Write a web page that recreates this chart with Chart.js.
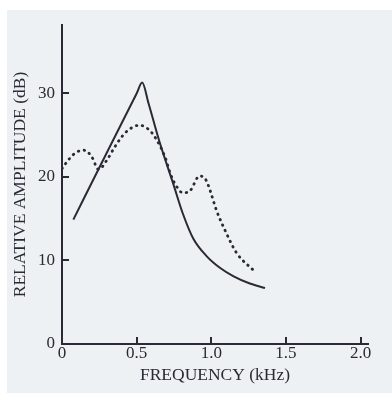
<!DOCTYPE html>
<html>
<head>
<meta charset="utf-8">
<script src="https://cdn.jsdelivr.net/npm/chart.js@4"></script>
<style>
  html, body { margin: 0; padding: 0; background: #ffffff; }
  #wrap { width: 392px; height: 396px; }
</style>
</head>
<body>
<div id="wrap"><canvas id="chart" width="392" height="396"></canvas></div>
<script>
// solid curve
const freqSolid = [0.076, 0.3, 0.5, 0.537, 0.58, 0.65, 0.745, 0.81, 0.88, 0.97, 1.06, 1.15, 1.25, 1.36];
const ampSolid = [14.9, 22.9, 30.0, 31.3, 28.8, 24.4, 19.2, 15.6, 12.6, 10.5, 9.1, 8.1, 7.3, 6.7];

// dotted curve
const freqDotted = [0.0, 0.05, 0.1, 0.15, 0.2, 0.245, 0.3, 0.35, 0.4, 0.45, 0.52, 0.58, 0.622, 0.69, 0.73, 0.77, 0.81, 0.86, 0.92, 0.95, 0.98, 1.035, 1.09, 1.17, 1.29];
const ampDotted = [21.0, 22.2, 23.0, 23.2, 22.4, 20.9, 22.0, 23.5, 24.8, 25.7, 26.2, 25.7, 24.8, 22.4, 20.2, 18.8, 18.1, 18.4, 20.1, 20.0, 19.0, 16.0, 13.7, 10.9, 8.7];

const xTicks = [0, 0.5, 1, 1.5, 2];
const xTickLabels = ["0", "0.5", "1.0", "1.5", "2.0"];
const yTicks = [0, 10, 20, 30];
const yTickLabels = ["0", "10", "20", "30"];

const ink = "#2a2a36";
const serif = "'Liberation Serif', 'DejaVu Serif', serif";

const toPoints = (xs, ys) => xs.map((x, i) => ({ x, y: ys[i] }));

// paper background
const paper = {
  id: "paper",
  beforeDraw(chart) {
    const c = chart.ctx;
    c.save();
    c.fillStyle = "#ffffff";
    c.fillRect(0, 0, chart.width, chart.height);
    c.fillStyle = "#eef1f3";
    c.fillRect(7, 10, chart.width - 7, chart.height - 13);
    c.restore();
  },
};

// short tick marks pointing into the plot
const innerTicks = {
  id: "innerTicks",
  afterDatasetsDraw(chart) {
    const c = chart.ctx;
    const xs = chart.scales.x;
    const ys = chart.scales.y;
    const base = ys.getPixelForValue(0);
    const left = xs.getPixelForValue(0);
    c.save();
    c.strokeStyle = ink;
    c.lineWidth = 2;
    c.beginPath();
    xTicks.forEach((v) => {
      if (v === 0) return;
      const px = Math.round(xs.getPixelForValue(v));
      c.moveTo(px, base);
      c.lineTo(px, base - 7);
    });
    yTicks.forEach((v) => {
      if (v === 0) return;
      const py = Math.round(ys.getPixelForValue(v));
      c.moveTo(left, py);
      c.lineTo(left + 7, py);
    });
    c.stroke();
    c.restore();
  },
};

new Chart(document.getElementById("chart"), {
  type: "scatter",
  data: {
    datasets: [
      {
        data: toPoints(freqSolid, ampSolid),
        showLine: true,
        borderColor: ink,
        borderWidth: 2,
        pointRadius: 0,
        cubicInterpolationMode: "monotone",
      },
      {
        data: toPoints(freqDotted, ampDotted),
        showLine: true,
        borderColor: ink,
        borderWidth: 2.8,
        borderDash: [0.5, 5.5],
        borderCapStyle: "round",
        pointRadius: 0,
        cubicInterpolationMode: "monotone",
      },
    ],
  },
  options: {
    responsive: false,
    animation: false,
    layout: { padding: { top: 25, right: 24, left: 0, bottom: 0 } },
    plugins: { legend: { display: false }, tooltip: { enabled: false } },
    scales: {
      x: {
        type: "linear",
        min: 0,
        max: 2.05,
        afterFit: (s) => { s.height = 52; },
        afterBuildTicks: (s) => { s.ticks = xTicks.map((v) => ({ value: v })); },
        grid: { display: true, drawOnChartArea: false, drawTicks: false },
        border: { display: true, color: ink, width: 2 },
        ticks: {
          color: ink,
          padding: 1,
          font: { family: serif, size: 17, lineHeight: 1 },
          callback: (v) => xTickLabels[xTicks.indexOf(v)],
        },
        title: {
          display: true,
          text: "FREQUENCY (kHz)",
          color: ink,
          font: { family: serif, size: 17.5, lineHeight: 1.2 },
          padding: { top: 0, bottom: 10 },
        },
      },
      y: {
        type: "linear",
        min: 0,
        max: 38.2,
        afterFit: (s) => { s.width = 62; },
        afterBuildTicks: (s) => { s.ticks = yTicks.map((v) => ({ value: v })); },
        grid: { display: true, drawOnChartArea: false, drawTicks: false },
        border: { display: true, color: ink, width: 2 },
        ticks: {
          color: ink,
          padding: 7,
          font: { family: serif, size: 17, lineHeight: 1 },
          callback: (v) => yTickLabels[yTicks.indexOf(v)],
        },
        title: {
          display: true,
          text: "RELATIVE AMPLITUDE (dB)",
          color: ink,
          font: { family: serif, size: 17.5, lineHeight: 1.2 },
          padding: { top: 10, bottom: 0 },
        },
      },
    },
  },
  plugins: [paper, innerTicks],
});
</script>
</body>
</html>
